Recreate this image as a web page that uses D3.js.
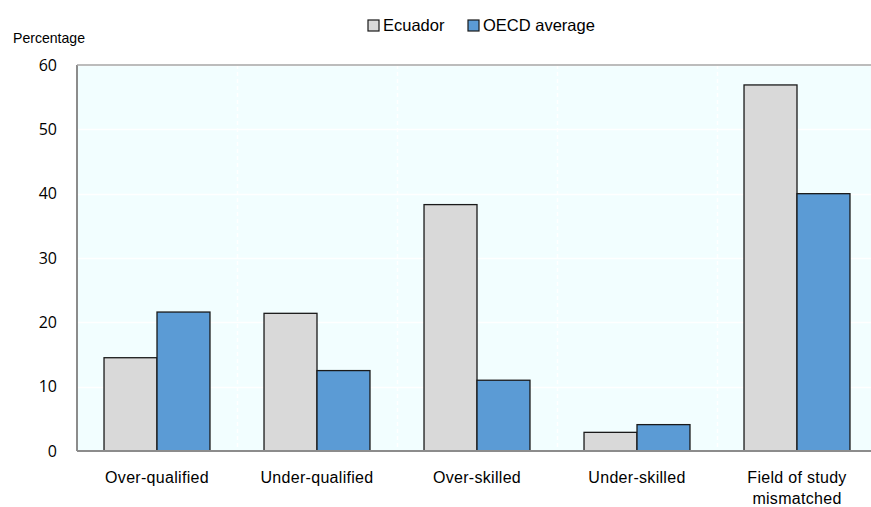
<!DOCTYPE html>
<html>
<head>
<meta charset="utf-8">
<script src="https://cdn.jsdelivr.net/npm/d3@7"></script>
<style>
  html, body { margin: 0; padding: 0; background: #fff; }
  svg { display: block; }
</style>
</head>
<body>
<svg id="chart" width="871" height="507"></svg>
<script>
// Skills and qualification mismatch, share of workers (%)
const categories = ["Over-qualified", "Under-qualified", "Over-skilled", "Under-skilled", "Field of study mismatched"];
const seriesNames = ["Ecuador", "OECD average"];
const ecuador = [14.5, 21.4, 38.3, 2.9, 56.9];
const oecd = [21.6, 12.5, 11.0, 4.1, 40.0];
const yTicks = [0, 10, 20, 30, 40, 50, 60];
const colors = ["#d9d9d9", "#5b9bd5"];

const svg = d3.select("#chart");
const margin = { left: 77, top: 65, right: -6, bottom: 56 };
const W = 871, H = 507;
const x0 = margin.left, x1 = W - margin.right;
const yTop = margin.top, yBot = H - margin.bottom;

const x = d3.scaleBand().domain(categories).range([x0, x1]).paddingInner(0).paddingOuter(0);
const xs = d3.scaleBand().domain(seriesNames).range([0, x.bandwidth()]).paddingInner(0).paddingOuter(0.51);
const y = d3.scaleLinear().domain([0, 60]).range([yBot, yTop]);

// plot background
svg.append("rect").attr("x", x0).attr("y", yTop).attr("width", x1 - x0).attr("height", yBot - yTop)
  .attr("fill", "#f2feff");

// horizontal gridlines
svg.append("g").selectAll("line").data(yTicks.filter(d => d > 0)).join("line")
  .attr("x1", x0).attr("x2", x1)
  .attr("y1", d => Math.round(y(d)) + 0.5).attr("y2", d => Math.round(y(d)) + 0.5)
  .attr("stroke", "#ffffff").attr("stroke-width", 1.5);

// vertical dashed separators between categories
svg.append("g").selectAll("line").data(categories.slice(1)).join("line")
  .attr("x1", d => Math.round(x(d)) + 0.5).attr("x2", d => Math.round(x(d)) + 0.5)
  .attr("y1", yTop).attr("y2", yBot)
  .attr("stroke", "#ffffff").attr("stroke-width", 1.5).attr("stroke-dasharray", "4,3");

// bars
const groups = svg.append("g").selectAll("g").data(categories).join("g")
  .attr("transform", d => `translate(${x(d)},0)`);
groups.selectAll("rect").data((d, i) => [ecuador[i], oecd[i]].map((v, j) => ({ s: seriesNames[j], v, j })))
  .join("rect")
  .attr("x", d => xs(d.s))
  .attr("width", xs.bandwidth())
  .attr("y", d => y(d.v))
  .attr("height", d => y(0) - y(d.v))
  .attr("fill", d => colors[d.j])
  .attr("stroke", "#1a1a1a").attr("stroke-width", 1.3);

// plot frame: left axis line, top border and baseline
svg.append("line").attr("x1", x0).attr("x2", x0).attr("y1", yTop).attr("y2", yBot)
  .attr("stroke", "#8c8c8c").attr("stroke-width", 2);
svg.append("line").attr("x1", x0).attr("x2", x1).attr("y1", yTop).attr("y2", yTop)
  .attr("stroke", "#a6a6a6").attr("stroke-width", 1.5);
svg.append("line").attr("x1", x0).attr("x2", x1).attr("y1", yBot).attr("y2", yBot)
  .attr("stroke", "#8c8c8c").attr("stroke-width", 2);

// y axis labels
const yAxis = d3.axisLeft(y).tickValues(yTicks).tickSize(0).tickPadding(20);
const gy = svg.append("g").attr("transform", `translate(${x0},0)`).call(yAxis);
gy.select(".domain").remove();
gy.selectAll("text").attr("font-family", "'Open Sans', 'DejaVu Sans', sans-serif")
  .attr("font-size", 16).attr("fill", "#000");

// x axis labels (wrapped)
const xAxis = d3.axisBottom(x).tickSize(0).tickFormat("");
const gx = svg.append("g").attr("transform", `translate(0,${yBot})`).call(xAxis);
gx.select(".domain").remove();
const wrapped = { "Field of study mismatched": ["Field of study", "mismatched"] };
svg.append("g").selectAll("text").data(categories).join("text")
  .attr("x", d => x(d) + x.bandwidth() / 2)
  .attr("y", yBot + 32)
  .attr("text-anchor", "middle")
  .attr("font-family", "'Liberation Sans', Arial, sans-serif")
  .attr("font-size", 16).attr("letter-spacing", 0.3).attr("fill", "#000")
  .each(function (d) {
    const lines = wrapped[d] || [d];
    d3.select(this).selectAll("tspan").data(lines).join("tspan")
      .attr("x", x(d) + x.bandwidth() / 2)
      .attr("dy", (l, i) => i === 0 ? 0 : 21)
      .text(l => l);
  });

// y axis title
svg.append("text").attr("x", 13).attr("y", 43)
  .attr("font-family", "'Liberation Sans', Arial, sans-serif")
  .attr("font-size", 14.5).attr("fill", "#000").attr("textLength", 72).attr("lengthAdjust", "spacingAndGlyphs")
  .text("Percentage");

// legend
const legendItems = [
  { name: seriesNames[0], color: colors[0], bx: 368, tx: 383 },
  { name: seriesNames[1], color: colors[1], bx: 468, tx: 483 }
];
const lg = svg.append("g");
lg.selectAll("rect").data(legendItems).join("rect")
  .attr("x", d => d.bx).attr("y", 20).attr("width", 11).attr("height", 11)
  .attr("fill", d => d.color).attr("stroke", "#1a1a1a").attr("stroke-width", 1.2);
lg.selectAll("text").data(legendItems).join("text")
  .attr("x", d => d.tx).attr("y", 31)
  .attr("font-family", "'Liberation Sans', Arial, sans-serif")
  .attr("font-size", 16.5).attr("fill", "#000")
  .text(d => d.name);
</script>
</body>
</html>
